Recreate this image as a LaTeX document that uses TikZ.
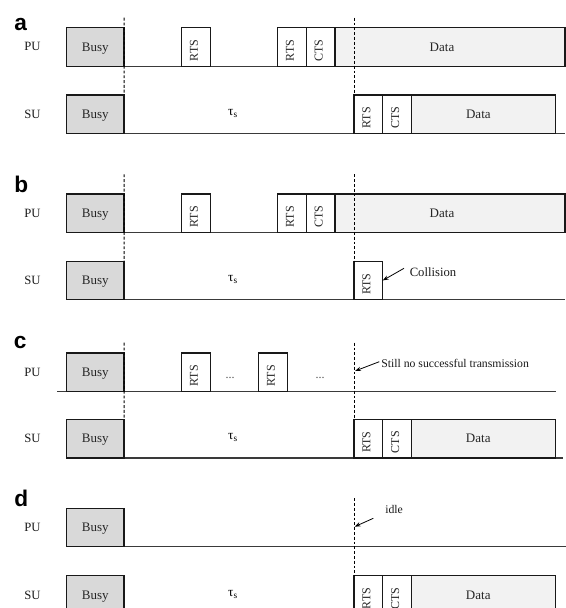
\documentclass[tikz,border=0pt]{standalone}
\usepackage{graphicx}
\usepackage{fontspec}
\setmainfont{Liberation Serif}
\newfontfamily\lblfont{Liberation Sans}
\usetikzlibrary{arrows.meta}
\definecolor{busygray}{HTML}{D9D9D9}
\definecolor{datagray}{HTML}{F2F2F2}
\definecolor{linegray}{HTML}{3A3A3A}
\tikzset{
  box/.style={draw=black!90, line width=0.9pt, inner sep=0pt, outer sep=0pt,
    font=\fontsize{9.75}{10}\selectfont, text=black!85, text depth=0pt},
  busybox/.style={box, fill=busygray},
  databox/.style={box, fill=datagray},
  pudata/.style={databox, node contents={}},
  ctlbox/.style={box, fill=white, font=\fontsize{9}{10}\selectfont},
  baseline/.style={draw=linegray, line width=0.9pt},
  dashline/.style={draw=black, line width=0.75pt, dash pattern=on 2.2pt off 1.4pt},
  rowlab/.style={font=\fontsize{9.5}{10}\selectfont, text=black!90},
  panel/.style={font=\lblfont\bfseries\fontsize{17}{18}\selectfont, anchor=base west, inner sep=0pt},
  taulab/.style={font=\fontsize{10}{11}\selectfont, anchor=base, inner sep=0pt},
  note/.style={font=\fontsize{8.8}{10}\selectfont, anchor=west, inner sep=0pt, text=black!90},
  dots/.style={font=\fontsize{9}{10}\selectfont, anchor=base, inner sep=0pt, text=black!70},
  pointer/.style={draw=black, line width=0.6pt, -{Stealth[length=4.5pt,width=3.2pt]}}
}
\newcommand\bx[7]{\node[#2, minimum width={(#5-#3)*0.75pt}, minimum height={(#6-#4)*0.75pt}, anchor=north west] (#1) at (#3,#4) {#7};}
\newcommand\rt[1]{\rotatebox{90}{\rule[-3pt]{0pt}{3pt}#1\hspace{5.4pt}}}
\newcommand\dtxt[2]{\hspace*{#1pt}#2}
\begin{document}
\begin{tikzpicture}[x=0.75pt,y=-0.75pt]
\useasboundingbox (0,0) rectangle (566,608);
\clip (0,0) rectangle (566,608);
% ================= panel a
\node[panel] (la) at (14,30) {a};
\node[rowlab] (aPU) at (32.5,46.8) {PU};
\node[rowlab] (aSU) at (32.5,114.2) {SU};
\coordinate (aP0) at (66.7,66.1); \coordinate (aP1) at (565,66.1);
\draw[baseline] (aP0) -- (aP1);
\bx{aPb}{busybox}{66.7}{27.7}{124}{66.1}{Busy}
\bx{aPr1}{ctlbox}{181.7}{27.7}{210.3}{66.1}{\rt{RTS}}
\bx{aPr2}{ctlbox}{277.7}{27.7}{306.3}{66.1}{\rt{RTS}}
\bx{aPc}{ctlbox}{306.3}{27.7}{335}{66.1}{\rt{CTS}}
\bx{aPd}{databox}{335}{27.7}{565}{66.1}{Data\hspace*{12pt}}
\coordinate (aS0) at (66.7,133.3); \coordinate (aS1) at (565,133.3);
\draw[baseline] (aS0) -- (aS1);
\bx{aSb}{busybox}{66.7}{95}{124}{133.3}{Busy}
\node[taulab] (aTau) at (233,115) {τ\textsubscript{s}};
\bx{aSr}{ctlbox}{354}{95}{382.7}{133.3}{\rt{RTS}}
\bx{aSc}{ctlbox}{382.7}{95}{411.7}{133.3}{\rt{CTS}}
\bx{aSd}{databox}{411.7}{95}{555.7}{133.3}{Data\hspace*{8pt}}
\coordinate (aT1) at (124,17.7); \coordinate (aT2) at (354,17.7);
\draw[dashline] (aT1) -- (aSb.north east);
\draw[dashline] (aT2) -- (aSr.north west);
% ================= panel b
\node[panel] (lb) at (14,192) {b};
\node[rowlab] (bPU) at (32.5,213.2) {PU};
\node[rowlab] (bSU) at (32.5,280.5) {SU};
\coordinate (bP0) at (66.7,232.4); \coordinate (bP1) at (565,232.4);
\draw[baseline] (bP0) -- (bP1);
\bx{bPb}{busybox}{66.7}{194}{124}{232.4}{Busy}
\bx{bPr1}{ctlbox}{181.7}{194}{210.3}{232.4}{\rt{RTS}}
\bx{bPr2}{ctlbox}{277.7}{194}{306.3}{232.4}{\rt{RTS}}
\bx{bPc}{ctlbox}{306.3}{194}{335}{232.4}{\rt{CTS}}
\bx{bPd}{databox}{335}{194}{565}{232.4}{Data\hspace*{12pt}}
\coordinate (bS0) at (66.7,299.6); \coordinate (bS1) at (565,299.6);
\draw[baseline] (bS0) -- (bS1);
\bx{bSb}{busybox}{66.7}{261.3}{124}{299.6}{Busy}
\node[taulab] (bTau) at (233,281.3) {τ\textsubscript{s}};
\bx{bSr}{ctlbox}{354}{261.3}{382.7}{299.6}{\rt{RTS}}
\coordinate (bT1) at (124,174.3); \coordinate (bT2) at (354,174.3);
\draw[dashline] (bT1) -- (bSb.north east);
\draw[dashline] (bT2) -- (bSr.north west);
\node[note, font=\fontsize{9.5}{10}\selectfont] (bCol) at (409.5,272.3) {Collision};
\coordinate (bA0) at (404,268.3);
\draw[pointer] (bA0) -- (bSr.east);
% ================= panel c
\node[panel] (lc) at (13.5,348.3) {c};
\node[rowlab] (cPU) at (32.5,372.2) {PU};
\node[rowlab] (cSU) at (32.5,438.7) {SU};
\coordinate (cP0) at (57,391.3); \coordinate (cP1) at (556,391.3);
\draw[baseline] (cP0) -- (cP1);
\bx{cPb}{busybox}{66.7}{353}{124}{391.3}{Busy}
\bx{cPr1}{ctlbox}{181.7}{353}{210.3}{391.3}{\rt{RTS}}
\node[dots] (cD1) at (230,378.5) {...};
\bx{cPr2}{ctlbox}{258.3}{353}{287.3}{391.3}{\rt{RTS}}
\node[dots] (cD2) at (320,378.5) {...};
\coordinate (cS0) at (66.7,458); \coordinate (cS1) at (563,458);
\draw[baseline] (cS0) -- (cS1);
\bx{cSb}{busybox}{66.7}{419.3}{124}{458}{Busy}
\node[taulab] (cTau) at (233,439.5) {τ\textsubscript{s}};
\bx{cSr}{ctlbox}{354}{419.3}{382.7}{458}{\rt{RTS}}
\bx{cSc}{ctlbox}{382.7}{419.3}{411.7}{458}{\rt{CTS}}
\bx{cSd}{databox}{411.7}{419.3}{555.5}{458}{Data\hspace*{8pt}}
\coordinate (cT1) at (124,342.7); \coordinate (cT2) at (354,342.7);
\draw[dashline] (cT1) -- (cSb.north east);
\draw[dashline] (cT2) -- (cSr.north west);
\node[note] (cNote) at (381,363.3) {Still no successful transmission};
\coordinate (cA0) at (379.3,361.7); \coordinate (cA1) at (355,371);
\draw[pointer] (cA0) -- (cA1);
% ================= panel d
\node[panel] (ld) at (14,506) {d};
\node[rowlab] (dPU) at (32.5,527.5) {PU};
\node[rowlab] (dSU) at (32.5,595) {SU};
\coordinate (dP0) at (66.7,546.8); \coordinate (dP1) at (566,546.8);
\draw[baseline] (dP0) -- (dP1);
\bx{dPb}{busybox}{66.7}{508.3}{124}{546.8}{Busy}
\coordinate (dS0) at (66.7,614.2); \coordinate (dS1) at (566,614.2);
\draw[baseline] (dS0) -- (dS1);
\bx{dSb}{busybox}{66.7}{575.7}{124}{614.2}{Busy}
\node[taulab] (dTau) at (233,596) {τ\textsubscript{s}};
\bx{dSr}{ctlbox}{354}{575.7}{382.7}{614.2}{\rt{RTS}}
\bx{dSc}{ctlbox}{382.7}{575.7}{411.7}{614.2}{\rt{CTS}}
\bx{dSd}{databox}{411.7}{575.7}{555.5}{614.2}{Data\hspace*{8pt}}
\coordinate (dT2) at (354,498.3);
\draw[dashline] (dT2) -- (dSr.north west);
\node[note] (dIdle) at (385,509.5) {idle};
\coordinate (dA0) at (373.3,518.3); \coordinate (dA1) at (354.6,526.7);
\draw[pointer] (dA0) -- (dA1);
\end{tikzpicture}
\end{document}
